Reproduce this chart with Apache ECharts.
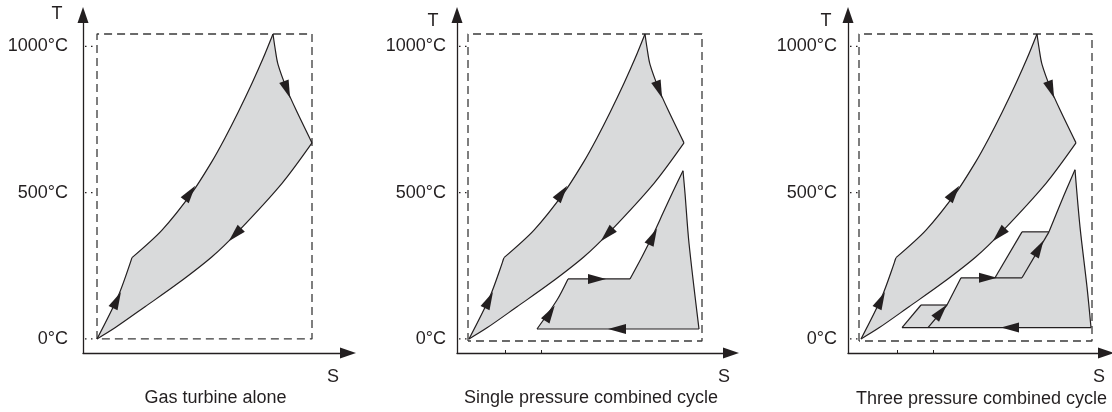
<!DOCTYPE html>
<html>
<head>
<meta charset="utf-8">
<script src="https://cdn.jsdelivr.net/npm/echarts@6/dist/echarts.min.js"></script>
<style>
html, body { margin: 0; padding: 0; background: #fff; }
#chart { width: 1112px; height: 412px; }
</style>
</head>
<body>
<div id="chart"></div>
<script>
// T axis ticks (°C) and the two marks on the S axis of the combined cycle plots
const tempTicks = [0, 500, 1000]
const entropyTicks = [36, 72]
const captions = ['Gas turbine alone', 'Single pressure combined cycle', 'Three pressure combined cycle']

// limits box (dashed) per panel: left S, right S, bottom T, and common top T
const boxLeft = [0, -1, -2]
const boxRight = [215, 233, 231]
const boxBottom = [0, -7, -7]
const boxTop = 1042

// gas turbine cycle, S in arbitrary units from compressor inlet, T in °C
const gasCompression = [[0, 0], [21, 145], [35, 278]]
const gasHeating = [[35, 278], [65, 372], [95, 500], [115, 607], [128, 687], [141, 774], [155, 874], [166, 958], [176, 1042]]
const gasExpansion = [[176, 1042], [178, 995], [181, 938], [190, 852], [199, 783], [215, 670]]
const gasExhaust = [[215, 670], [185, 532], [141, 367], [115, 281], [81, 190], [48, 110], [18, 38], [0, 0]]
const gasArrows = [[20, 133], [93, 499], [190, 852], [138, 356]]
const gasArrowAngles = [-26, -36, -160, 136]

// single pressure steam cycle
const sp_feed = [[68, 34], [88, 133], [99, 205]]
const sp_evap = [[99, 205], [161, 205]]
const sp_super = [[161, 205], [173, 281], [184, 356], [194, 430], [204, 504], [214, 575]]
const sp_expand = [[214, 575], [216, 498], [220, 327], [230, 34]]
const sp_cond = [[230, 34], [68, 34]]
const spArrows = [[81, 88], [128, 205], [184, 350], [148, 34]]
const spArrowAngles = [-32, -90, -26, 90]

// three pressure steam cycle
const tp_lpLeft = [[41, 39], [60, 116]]
const tp_lpTop = [[60, 116], [86, 116]]
const tp_lpEcon = [[67, 39], [86, 116], [100, 209]]
const tp_ipHoriz = [[100, 209], [161, 209]]
const tp_ipLeft = [[134, 209], [161, 366]]
const tp_ipTop = [[161, 366], [188, 366]]
const tp_ipRight = [[161, 209], [188, 366]]
const tp_super = [[188, 366], [201, 475], [214, 578]]
const tp_expand = [[214, 578], [219, 383], [226, 178], [230, 39]]
const tp_cond = [[230, 39], [41, 39]]
const tpArrows = [[80, 93], [127, 209], [178, 310], [149, 39]]
const tpArrowAngles = [-40, -90, -30, 90]

const INK = '#231f20'
const FILL = '#d9dadb'
const FONT = '"Liberation Sans", Arial, Helvetica, sans-serif'

// panel layout (px): y axis position, x range (1 unit = 1 px), label placement
const panels = [
    { left: 83, xMin: -14, xMax: 251, labelMargin: 15, ticks: false, tPos: [57, 14], sPos: [333, 377], capPos: [215.5, 398] },
    { left: 457, xMin: -12, xMax: 262, labelMargin: 11, ticks: true, tPos: [433, 21], sPos: [724, 377], capPos: [591, 398] },
    { left: 848, xMin: -13, xMax: 245, labelMargin: 11, ticks: true, tPos: [826, 21], sPos: [1099, 377], capPos: [981.5, 399] }
]

const gasOutline = [...gasCompression, ...gasHeating.slice(1), ...gasExpansion.slice(1), ...gasExhaust.slice(1, -1)]
const spOutline = [...sp_feed, ...sp_evap.slice(1), ...sp_super.slice(1), ...sp_expand.slice(1)]
const tpOutline = [...tp_lpLeft, tp_lpTop[1], tp_lpEcon[2], ...tp_ipLeft, tp_ipTop[1], ...tp_super.slice(1), ...tp_expand.slice(1)]

const grids = []
const xAxes = []
const yAxes = []
const series = []
const titles = []

function fillSeries(i, pts) {
    return {
        type: 'custom',
        xAxisIndex: i,
        yAxisIndex: i,
        silent: true,
        clip: false,
        z: 2,
        data: [[0, 0]],
        renderItem: (params, api) => ({
            type: 'polygon',
            shape: { points: pts.map((p) => api.coord(p)) },
            style: { fill: FILL, stroke: null }
        })
    }
}

function lineSeries(i, pts, smooth, style) {
    return {
        type: 'line',
        xAxisIndex: i,
        yAxisIndex: i,
        data: pts,
        smooth: smooth ? 0.3 : false,
        showSymbol: false,
        symbol: 'none',
        clip: false,
        silent: true,
        z: 3,
        lineStyle: style || { color: INK, width: 1.2 }
    }
}

function arrowSeries(i, pts, angles) {
    return {
        type: 'scatter',
        xAxisIndex: i,
        yAxisIndex: i,
        symbol: 'triangle',
        symbolSize: [10, 18],
        silent: true,
        z: 4,
        itemStyle: { color: INK, opacity: 1 },
        data: pts.map((p, k) => ({ value: p, symbolRotate: angles[k] }))
    }
}

function textTitle(text, pos) {
    return {
        text: text,
        left: pos[0],
        top: pos[1],
        padding: 0,
        textAlign: 'center',
        textVerticalAlign: 'middle',
        textStyle: { fontFamily: FONT, fontSize: 18, fontWeight: 'normal', color: INK }
    }
}

panels.forEach((p, i) => {
    grids.push({ left: p.left, top: 15, width: p.xMax - p.xMin, height: 338 })
    xAxes.push({
        type: 'value',
        gridIndex: i,
        min: p.xMin,
        max: p.xMax,
        axisLine: {
            show: true,
            onZero: false,
            symbol: ['none', 'triangle'],
            symbolSize: [11, 16],
            lineStyle: { color: INK, width: 1.3 }
        },
        axisTick: p.ticks
            ? { show: true, inside: true, length: 3, customValues: entropyTicks, lineStyle: { color: INK, width: 1 } }
            : { show: false },
        axisLabel: { show: false },
        splitLine: { show: false }
    })
    yAxes.push({
        type: 'value',
        gridIndex: i,
        min: -48,
        max: 1107,
        axisLine: {
            show: true,
            onZero: false,
            symbol: ['none', 'triangle'],
            symbolSize: [11, 16],
            lineStyle: { color: INK, width: 1.3 }
        },
        axisTick: { show: false },
        axisLabel: {
            show: true,
            customValues: tempTicks,
            formatter: (v) => v + '°C',
            margin: p.labelMargin,
            fontFamily: FONT,
            fontSize: 18,
            color: INK
        },
        splitLine: { show: false }
    })

    // dashed limits box
    const l = boxLeft[i], r = boxRight[i], b = boxBottom[i]
    series.push(lineSeries(i, [[l, b], [l, boxTop], [r, boxTop], [r, b], [l, b]], false,
        { color: '#3a3a3a', width: 1.3, type: [8, 5] }))
    // dotted leaders from the T labels
    tempTicks.forEach((t) => {
        series.push(lineSeries(i, [[p.xMin - 4, t], [l, t]], false, { color: INK, width: 1.3, type: [1.5, 4.5] }))
    })

    // gas turbine cycle
    series.push(fillSeries(i, gasOutline))
    series.push(lineSeries(i, gasCompression, true))
    series.push(lineSeries(i, gasHeating, true))
    series.push(lineSeries(i, gasExpansion, true))
    series.push(lineSeries(i, gasExhaust, true))
    series.push(arrowSeries(i, gasArrows, gasArrowAngles))

    titles.push(textTitle('T', p.tPos))
    titles.push(textTitle('S', p.sPos))
    titles.push(textTitle(captions[i], p.capPos))
})

// single pressure steam cycle
series.push(fillSeries(1, spOutline))
;[sp_feed, sp_super, sp_expand].forEach((e) => series.push(lineSeries(1, e, true)))
;[sp_evap, sp_cond].forEach((e) => series.push(lineSeries(1, e, false)))
series.push(arrowSeries(1, spArrows, spArrowAngles))

// three pressure steam cycle
series.push(fillSeries(2, tpOutline))
;[tp_super, tp_expand].forEach((e) => series.push(lineSeries(2, e, true)))
;[tp_lpLeft, tp_lpTop, tp_lpEcon, tp_ipHoriz, tp_ipLeft, tp_ipTop, tp_ipRight, tp_cond].forEach((e) =>
    series.push(lineSeries(2, e, false)))
series.push(arrowSeries(2, tpArrows, tpArrowAngles))

const myChart = echarts.init(document.getElementById('chart'), null, { renderer: 'canvas' })
myChart.setOption({
    animation: false,
    backgroundColor: '#fff',
    title: titles,
    grid: grids,
    xAxis: xAxes,
    yAxis: yAxes,
    series: series
})
</script>
</body>
</html>
